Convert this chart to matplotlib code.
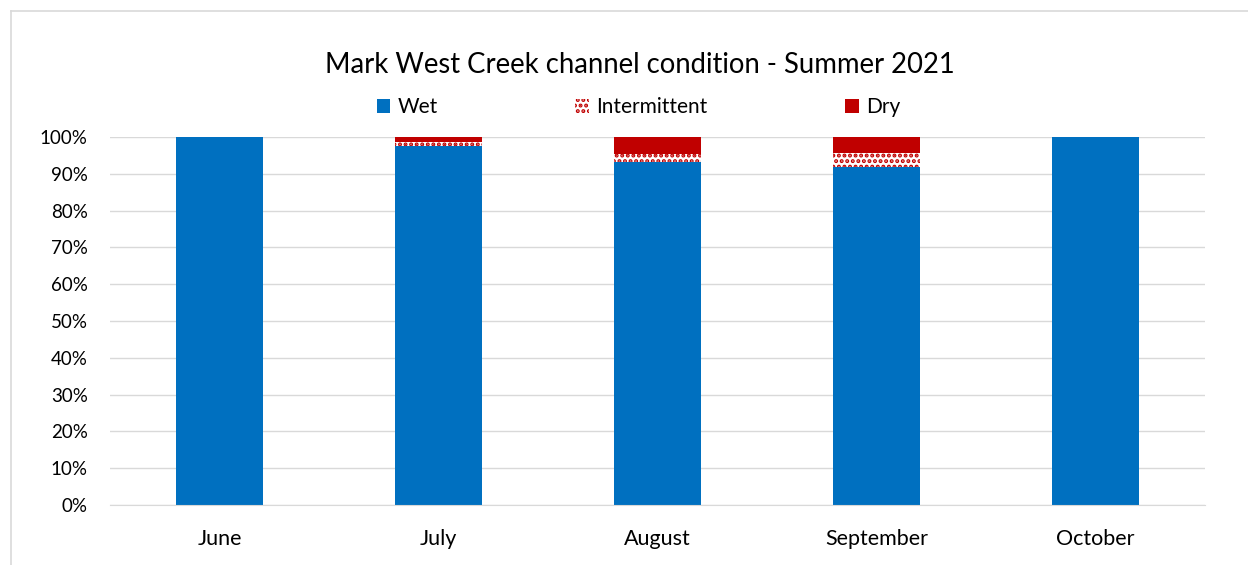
import matplotlib
matplotlib.use("Agg")
import matplotlib.pyplot as plt
from matplotlib.patches import Patch
from matplotlib.lines import Line2D
import numpy as np

plt.rcParams['font.family'] = ['Lato', 'DejaVu Sans']
plt.rcParams['hatch.linewidth'] = 2.0

months = ["June", "July", "August", "September", "October"]
wet = [100.0, 97.5, 93.2, 91.9, 100.0]
intermittent = [0.0, 1.1, 2.1, 3.7, 0.0]
dry = [0.0, 1.4, 4.7, 4.4, 0.0]

blue = "#0070c0"
red = "#c00000"

W, H = 1248, 565
fig = plt.figure(figsize=(W / 100, H / 100), dpi=100)
# chart-area border (only top and left visible in the reference crop)
fig.add_artist(Line2D([10.5 / W, 1.0], [1 - 10.5 / H, 1 - 10.5 / H], transform=fig.transFigure,
                      color="#d9d9d9", linewidth=1.2))
fig.add_artist(Line2D([10.5 / W, 10.5 / W], [0, 1 - 10.5 / H], transform=fig.transFigure,
                      color="#d9d9d9", linewidth=1.2))

ax = fig.add_axes([110 / W, 1 - 505 / H, 1095 / W, 368 / H])

x = np.arange(len(months))
w = 0.4
ax.bar(x, wet, w, color=blue, zorder=2)
ax.bar(x, intermittent, w, bottom=wet, facecolor="white", edgecolor=red, hatch="...", linewidth=0, zorder=2)
bottom2 = [a + b for a, b in zip(wet, intermittent)]
ax.bar(x, dry, w, bottom=bottom2, color=red, zorder=2)

ax.set_xlim(-0.5, len(months) - 0.5)
ax.set_ylim(0, 100)
ax.set_yticks(np.arange(0, 101, 10))
ax.set_yticklabels([f"{v}%" for v in range(0, 101, 10)])
ax.set_xticks(x)
ax.set_xticklabels(months)
ax.yaxis.grid(True, color="#d9d9d9", linewidth=1, zorder=0)
ax.set_axisbelow(True)
for s in ["top", "right", "left"]:
    ax.spines[s].set_visible(False)
ax.spines["bottom"].set_color("#d9d9d9")
ax.tick_params(axis="both", length=0, colors="#000000")
ax.tick_params(axis="x", pad=17, labelsize=15.5)
ax.tick_params(axis="y", pad=16, labelsize=13.5)

fig.text(0.5124, 1 - 65 / H, "Mark West Creek channel condition - Summer 2021", ha="center", va="center", fontsize=19.8)

handles = [Patch(facecolor=blue, label="Wet"),
           Patch(facecolor="white", edgecolor=red, hatch="...", linewidth=0, label="Intermittent"),
           Patch(facecolor=red, label="Dry")]
fig.legend(handles=handles, loc="center", bbox_to_anchor=(0.5116, 1 - 107 / H), ncol=3, frameon=False,
           fontsize=15, handlelength=0.65, handleheight=0.65, handletextpad=0.35, columnspacing=6.6)

fig.savefig("out.png", dpi=100)
